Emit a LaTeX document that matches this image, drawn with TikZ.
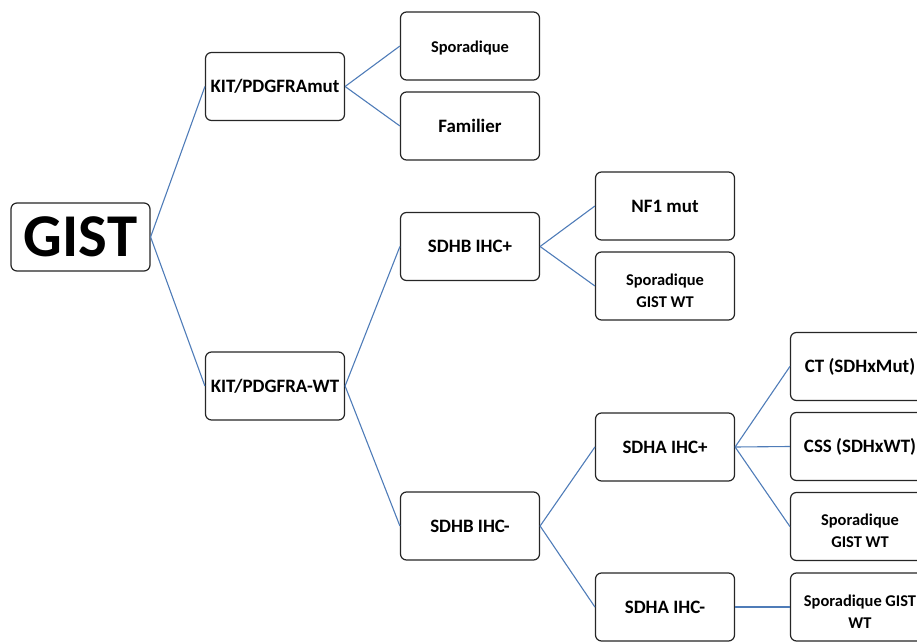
\documentclass[tikz,border=0pt]{standalone}
\usepackage{fontspec}
\setmainfont{Carlito}
\begin{document}
\begin{tikzpicture}[x=1bp,y=-1bp,
  box/.style={draw=black!85,line width=1.2bp,rounded corners=6bp,fill=white,
    minimum width=139bp,minimum height=68bp,align=center,inner sep=2bp,
    font=\bfseries\fontsize{19}{22}\selectfont},
  small/.style={font=\bfseries\fontsize{16.5}{22}\selectfont},
  link/.style={draw={rgb,255:red,79;green,124;blue,184},line width=1.1bp}]
\useasboundingbox (0,0) rectangle (917,642);
\node[box,font=\bfseries\fontsize{61}{61}\selectfont] (gist) at (80.5,237) {GIST};
\node[box] (kitmut) at (275,86.5) {KIT/PDGFRAmut};
\node[box,small] (spor1) at (470,46) {\rule{0pt}{16bp}Sporadique};
\node[box] (fam) at (470,126) {Familier};
\node[box] (kitwt) at (275,386) {KIT/PDGFRA-WT};
\node[box] (sdhbp) at (470,246.5) {SDHB IHC+};
\node[box] (nf1) at (665,206) {NF1 mut};
\node[box,small] (spor2) at (665,286) {\rule{0pt}{20.5bp}Sporadique\\GIST WT};
\node[box] (sdhbm) at (470,526) {SDHB IHC-};
\node[box] (sdhap) at (665,447) {SDHA IHC+};
\node[box] (sdham) at (665,607) {SDHA IHC-};
\node[box] (ct) at (860,366.5) {CT (SDHxMut)};
\node[box] (css) at (860,446.5) {CSS (SDHxWT)};
\node[box,small] (spor3) at (860,526.5) {\rule{0pt}{20.5bp}Sporadique\\GIST WT};
\node[box,small] (spor4) at (860,607) {\rule{0pt}{20.5bp}Sporadique GIST\\WT};
\draw[link] (gist.east) -- (kitmut.west);
\draw[link] (gist.east) -- (kitwt.west);
\draw[link] (kitmut.east) -- (spor1.west);
\draw[link] (kitmut.east) -- (fam.west);
\draw[link] (kitwt.east) -- (sdhbp.west);
\draw[link] (kitwt.east) -- (sdhbm.west);
\draw[link] (sdhbp.east) -- (nf1.west);
\draw[link] (sdhbp.east) -- (spor2.west);
\draw[link] (sdhbm.east) -- (sdhap.west);
\draw[link] (sdhbm.east) -- (sdham.west);
\draw[link] (sdhap.east) -- (ct.west);
\draw[link] (sdhap.east) -- (css.west);
\draw[link] (sdhap.east) -- (spor3.west);
\draw[link] (sdham.east) -- (spor4.west);
\end{tikzpicture}
\end{document}
